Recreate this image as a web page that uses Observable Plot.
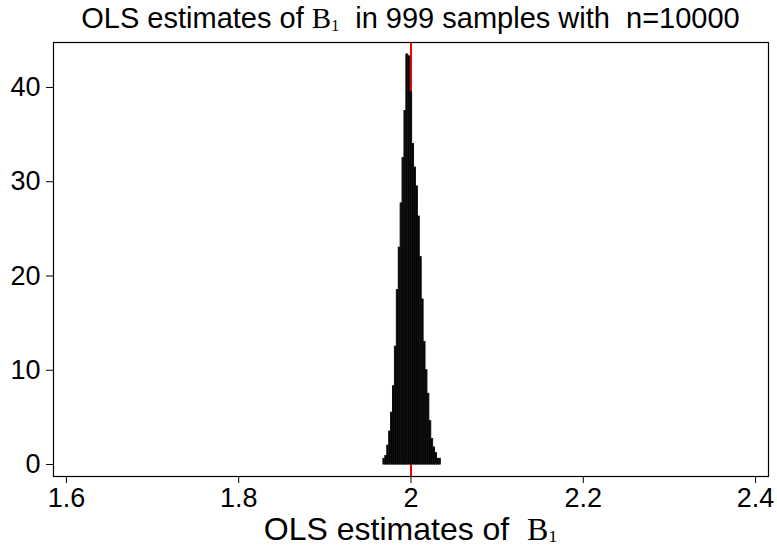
<!DOCTYPE html>
<html><head><meta charset="utf-8">
<script src="https://cdn.jsdelivr.net/npm/d3@7"></script>
<script src="https://cdn.jsdelivr.net/npm/@observablehq/plot@0.6"></script>
<style>
body{margin:0;background:#fff;}
#chart{width:777px;height:548px;position:relative;font-family:"Liberation Sans",Arial,sans-serif;color:#000;overflow:hidden;}
#chart svg{position:absolute;left:0;top:0;}
.ttl{position:absolute;left:53px;width:715px;text-align:center;white-space:pre;line-height:1;}
#title{top:4px;font-size:29px;}
#xlabel{top:517px;font-size:32px;line-height:0.8;}
.b{font-family:"Liberation Serif","Times New Roman",serif;}
.sub{font-size:0.55em;position:relative;top:0.18em;}
#xlabel .sub{top:0.1em;}
</style></head>
<body>
<div id="chart">
<div class="ttl" id="title">OLS estimates of <span class="b">B<span class="sub">1</span></span>  in 999 samples with  n=10000</div>
<div class="ttl" id="xlabel">OLS estimates of  <span class="b">B<span class="sub">1</span></span></div>
</div>
<script>
// Histogram of 999 OLS estimates (density), 30 bins
const binStart = 1.968;
const binWidth = 0.00222;
const density = [0.6, 0.9, 2.0, 3.5, 5.5, 8.3, 12.5, 18.5, 23.0, 27.7, 32.5, 37.5, 43.5, 43.3,
                 39.5, 34.0, 31.5, 29.5, 26.3, 22.0, 17.5, 13.0, 10.0, 7.5, 4.6, 2.7, 1.8, 1.2, 0.6, 0.6];
const xTicks = [1.6, 1.8, 2, 2.2, 2.4];
const yTicks = [0, 10, 20, 30, 40];
const trueValue = [2];

const bins = density.map((d, i) => ({x1: binStart + i * binWidth, x2: binStart + (i + 1) * binWidth, d}));

const plot = Plot.plot({
  width: 777, height: 548,
  marginTop: 42, marginBottom: 72, marginLeft: 53, marginRight: 9,
  style: {fontSize: "27px", fontFamily: "'Liberation Sans', Arial, sans-serif", background: "transparent", color: "black"},
  x: {domain: [1.585, 2.415]},
  y: {domain: [-1.27, 44.77]},
  marks: [
    Plot.ruleX(trueValue, {stroke: "red", strokeWidth: 2}),
    Plot.rect(bins, {x1: "x1", x2: "x2", y1: 0, y2: "d", fill: "black", stroke: "#111", strokeWidth: 1}),
    Plot.frame({stroke: "black", strokeWidth: 1.2}),
    Plot.axisX({ticks: xTicks, tickFormat: d => String(d), tickSize: 7, tickPadding: 4, label: null}),
    Plot.axisY({ticks: yTicks, tickSize: 7, tickPadding: 6, label: null})
  ]
});
document.getElementById("chart").prepend(plot);
</script>
</body></html>
